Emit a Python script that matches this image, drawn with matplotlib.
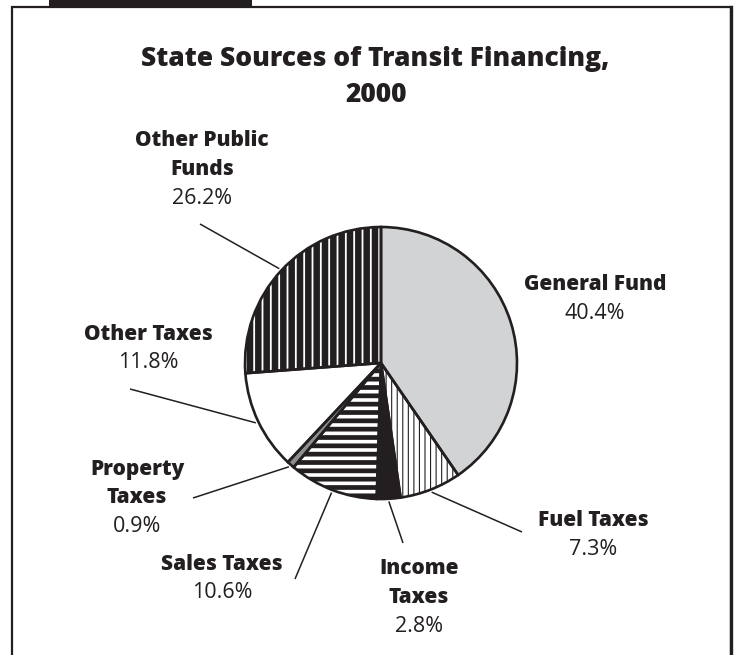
import matplotlib
matplotlib.use("Agg")
import numpy as np
import matplotlib.pyplot as plt
from matplotlib.patches import Rectangle

# State transit funding shares, clockwise from 12 o'clock
sources = ["General Fund", "Fuel Taxes", "Income\nTaxes", "Sales Taxes",
           "Property\nTaxes", "Other Taxes", "Other Public\nFunds"]
shares = [40.4, 7.3, 2.8, 10.6, 0.9, 11.8, 26.2]

face_colors = ["#d1d3d4", "white", "#231f20", "white", "#8c8e90", "white", "#231f20"]
hatch_colors = ["none", "#231f20", "none", "#231f20", "none", "none", "white"]
hatches = [None, "|||", None, "--", None, None, "||"]
hatch_widths = [0, 0.8, 0, 3.4, 0, 0, 1.3]

# label block anchor (centre of the first line) and far end of each leader line
label_pos = [(595, 285), (593, 521), (419, 569), (222, 564),
             (137, 469), (148, 334), (202, 141)]
leader_ends = [None, (522, 532), (403, 543), (295, 579),
               (193, 498), (130, 389), (200, 224)]

ink = "#231f20"
W, H = 734, 655
center = (381, 363)
radius = 136

fig = plt.figure(figsize=(W / 100, H / 100), dpi=100)
ax = fig.add_axes([0, 0, 1, 1])

# y axis runs downward, so startangle=-90 is the top and counterclock runs clockwise on screen
wedges, _ = ax.pie(shares, colors=face_colors, startangle=-90, counterclock=True,
                   center=center, radius=radius, frame=True,
                   wedgeprops=dict(linewidth=0))
for w, hc, h, hw in zip(wedges, hatch_colors, hatches, hatch_widths):
    if h:
        w.set_edgecolor(hc)
        w.set_hatch(h)
        w.set_hatch_linewidth(hw)

# outlines on top
ax.pie(shares, startangle=-90, counterclock=True, center=center, radius=radius,
       frame=True, wedgeprops=dict(fill=False, edgecolor=ink, linewidth=1.9))

# labels and leader lines
for w, name, val, (lx, ly), end in zip(wedges, sources, shares, label_pos, leader_ends):
    lines = name.split("\n")
    for i, ln in enumerate(lines):
        ax.text(lx, ly + i * 28.5, ln, ha="center", va="center", fontsize=15,
                fontweight=800, color=ink, family="Open Sans")
    ax.text(lx, ly + len(lines) * 28.5, f"{val}%", ha="center", va="center",
            fontsize=15.5, color=ink, family="Open Sans")
    if end is not None:
        mid = np.deg2rad((w.theta1 + w.theta2) / 2)
        rx = center[0] + radius * 1.02 * np.cos(mid)
        ry = center[1] + radius * 1.02 * np.sin(mid)
        ax.plot([end[0], rx], [end[1], ry], color=ink, lw=1.1, solid_capstyle="butt")

# title
ax.text(375, 59, "State Sources of Transit Financing,", ha="center", va="center",
        fontsize=19, fontweight=800, color=ink, family="Open Sans")
ax.text(376, 95, "2000", ha="center", va="center",
        fontsize=19, fontweight=800, color=ink, family="Open Sans")

# panel frame and header tab
ax.plot([12, 12, 731, 731], [H + 5, 7, 7, H + 5], color=ink, lw=1.6,
        solid_joinstyle="miter")
ax.plot([731, 731], [7, H + 5], color=ink, lw=2.4)
ax.add_patch(Rectangle((49, -5), 203, 11, color=ink, lw=0))

ax.set_xlim(0, W)
ax.set_ylim(H, 0)
ax.axis("off")

fig.savefig("out.png", dpi=100, facecolor="white")
